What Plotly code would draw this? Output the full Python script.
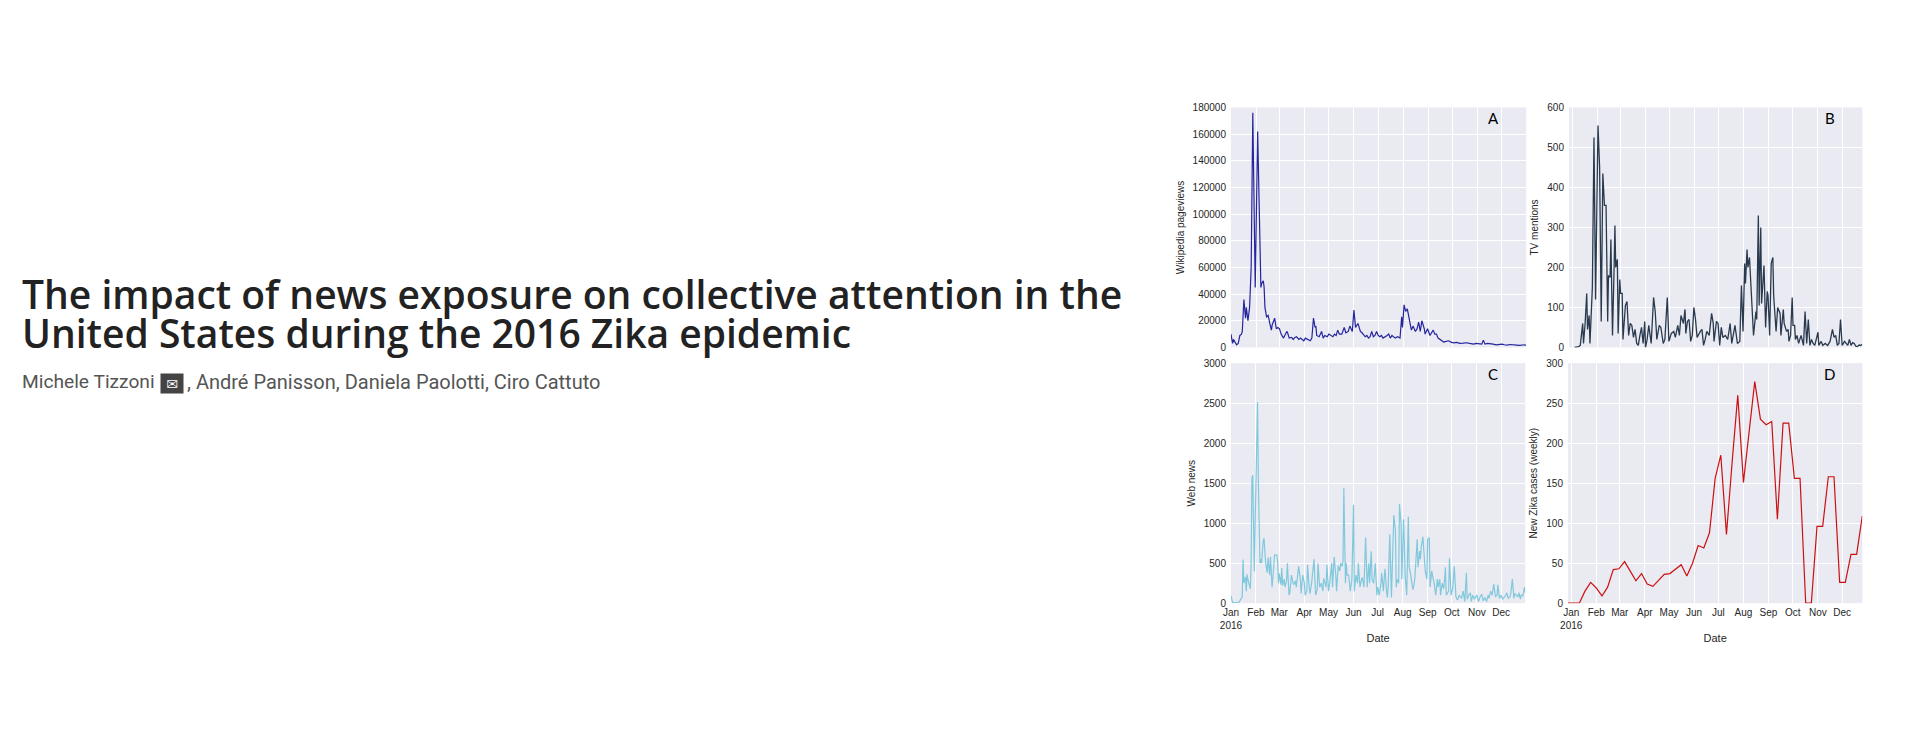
import pandas as pd
import plotly.graph_objects as go

BG = "#EAEAF2"
TXT = "#262626"
TICKFONT = dict(family="Liberation Sans, Arial", size=10, color=TXT)

MONTHS = ["Jan<br>2016", "Feb", "Mar", "Apr", "May", "Jun",
          "Jul", "Aug", "Sep", "Oct", "Nov", "Dec"]
MONTH_STARTS = pd.date_range("2016-01-01", periods=12, freq="MS")

# A: Wikipedia pageviews (days since 2016-01-01)
wiki_days = [0, 2, 3, 5, 7, 9, 11, 13, 14, 16, 18, 19, 21, 23, 24, 25, 27, 30, 33, 37,
             38, 40, 41, 42, 44, 46, 48, 50, 51, 54, 56, 58, 60, 62, 65, 67, 69, 70, 72, 75,
             77, 79, 81, 84, 86, 88, 90, 92, 95, 98, 100, 102, 104, 105, 106, 109, 112, 114, 116, 119,
             121, 123, 126, 128, 130, 132, 134, 137, 140, 142, 145, 147, 150, 152, 154, 157, 160, 162, 164, 166,
             168, 170, 172, 174, 176, 178, 180, 182, 184, 186, 188, 191, 193, 195, 197, 199, 201, 203, 206, 209,
             211, 212, 214, 216, 218, 220, 221, 223, 225, 228, 230, 232, 234, 236, 239, 240, 243, 246, 248, 250,
             252, 254, 256, 258, 260, 263, 266, 269, 272, 275, 279, 283, 287, 291, 295, 300, 303, 306, 309, 310,
             312, 314, 317, 320, 324, 328, 331, 335, 338, 341, 345, 349, 353, 357, 360, 363, 365]
wiki_views = [10000, 3000, 6000, 4000, 2000, 3000, 9000, 10000, 12000, 36000, 22000, 30000, 20000, 30000, 55000, 60000, 176000, 45000, 162000, 45000,
              48000, 50000, 45000, 30000, 23000, 24000, 18000, 13000, 17000, 22000, 14000, 15000, 14000, 10000, 7000, 9000, 12000, 11000, 7000, 7500,
              6000, 7500, 8000, 6000, 7000, 6000, 5000, 7000, 6000, 5000, 7000, 22000, 15000, 16000, 9000, 8000, 12000, 7000, 9000, 8000,
              10000, 9000, 8000, 10000, 9000, 13000, 10000, 10000, 15000, 11000, 12000, 16000, 12000, 28000, 15000, 18000, 12000, 11000, 9000, 8000,
              9000, 7000, 8000, 12000, 8000, 9000, 12000, 9000, 8000, 9000, 7000, 8000, 9000, 10000, 7000, 9000, 8000, 7000, 8000, 7000,
              23000, 15000, 32000, 27000, 29000, 22000, 20000, 13000, 16000, 12000, 14000, 19000, 12000, 20000, 14000, 10000, 14000, 9000, 11000, 13000,
              10000, 10000, 7000, 6000, 5000, 4000, 4500, 5000, 4000, 3500, 3800, 3000, 3200, 3500, 3000, 2500, 3000, 3000, 2500, 2500,
              5500, 2500, 3000, 3000, 2500, 2000, 2200, 2500, 2000, 1800, 2200, 2200, 1800, 1500, 1800, 2000, 1500]

# B: TV mentions (days since 2015-12-28)
tv_days = [7, 12, 14, 17, 18, 20, 22, 23, 25, 26, 29, 31, 33, 35, 36, 38, 40, 42, 44, 46,
           48, 49, 51, 52, 54, 56, 57, 58, 60, 61, 63, 64, 66, 67, 70, 72, 74, 76, 78, 80,
           82, 84, 86, 88, 90, 92, 94, 95, 97, 99, 102, 105, 107, 109, 112, 114, 117, 119, 122, 124,
           127, 130, 132, 135, 137, 139, 142, 144, 145, 147, 149, 151, 153, 155, 157, 159, 161, 163, 165, 167,
           169, 171, 174, 177, 179, 180, 183, 185, 187, 189, 191, 194, 197, 200, 202, 204, 206, 209, 212, 214,
           216, 218, 219, 221, 222, 224, 226, 229, 232, 233, 235, 236, 238, 239, 242, 244, 246, 247, 249, 251,
           253, 254, 257, 259, 262, 263, 266, 267, 270, 272, 273, 275, 277, 278, 280, 281, 283, 285, 288, 291,
           293, 295, 297, 299, 301, 303, 305, 307, 309, 310, 313, 315, 318, 321, 324, 327, 329, 331, 333, 335,
           337, 339, 342, 344, 346, 348, 350, 352, 354, 356, 358, 360, 362, 364]
tv_mentions = [0, 2, 5, 60, 10, 60, 135, 45, 80, 10, 150, 525, 120, 490, 555, 450, 65, 435, 355, 355,
               65, 180, 175, 270, 30, 200, 305, 200, 220, 35, 170, 135, 135, 20, 105, 115, 30, 60, 55, 25,
               45, 10, 5, 30, 50, 10, 65, 0, 20, 55, 10, 125, 90, 20, 55, 50, 10, 20, 125, 15,
               35, 40, 25, 55, 30, 80, 60, 95, 35, 65, 70, 15, 30, 100, 70, 25, 35, 40, 45, 5,
               20, 40, 30, 85, 60, 15, 65, 60, 5, 50, 25, 30, 20, 60, 10, 30, 55, 10, 15, 155,
               40, 210, 160, 245, 200, 225, 130, 30, 90, 70, 330, 105, 300, 110, 205, 50, 140, 130, 30, 210,
               225, 130, 40, 100, 85, 30, 95, 60, 40, 45, 15, 30, 125, 55, 55, 20, 30, 10, 30, 5,
               90, 10, 70, 5, 20, 10, 5, 20, 38, 5, 15, 5, 10, 5, 15, 45, 25, 30, 5, 10,
               70, 5, 15, 10, 5, 20, 5, 12, 10, 3, 2, 6, 5, 8]

# C: Web news (days since 2016-01-01)
news_days = [0, 2, 6, 10, 14, 15, 16, 18, 19, 20, 21, 23, 24, 25, 26, 27, 29, 30, 33, 34,
             36, 37, 38, 40, 41, 43, 44, 45, 46, 48, 49, 51, 53, 54, 57, 58, 59, 60, 62, 63,
             64, 66, 67, 69, 70, 72, 73, 75, 77, 78, 80, 81, 84, 86, 87, 89, 91, 92, 94, 95,
             97, 98, 100, 101, 103, 105, 107, 108, 110, 112, 114, 115, 118, 119, 121, 123, 125, 126, 128, 130,
             131, 133, 135, 136, 138, 139, 140, 142, 143, 144, 146, 148, 150, 152, 153, 155, 157, 158, 160, 162,
             163, 165, 167, 169, 171, 172, 174, 175, 177, 179, 181, 182, 184, 186, 187, 189, 191, 193, 194, 195,
             197, 199, 201, 202, 204, 205, 206, 208, 209, 211, 212, 214, 215, 216, 218, 220, 221, 223, 225, 226,
             228, 231, 232, 234, 235, 236, 238, 240, 241, 243, 244, 246, 247, 249, 250, 252, 254, 256, 257, 259,
             260, 262, 264, 266, 267, 270, 271, 273, 275, 277, 279, 281, 283, 286, 288, 290, 292, 293, 295, 297,
             298, 300, 302, 305, 307, 309, 311, 313, 315, 317, 319, 320, 322, 324, 326, 328, 330, 331, 333, 335,
             337, 339, 341, 342, 344, 346, 347, 349, 351, 352, 354, 356, 357, 359, 360, 362, 364, 365]
news_counts = [95, 10, 8, 12, 80, 545, 250, 330, 150, 360, 300, 200, 180, 500, 1550, 1600, 400, 1000, 2510, 1500,
               500, 550, 500, 780, 810, 500, 450, 380, 570, 350, 580, 200, 450, 600, 600, 500, 250, 370, 230, 440,
               220, 300, 200, 280, 500, 100, 130, 350, 250, 230, 280, 200, 460, 300, 120, 350, 250, 100, 150, 480,
               200, 120, 250, 350, 550, 100, 170, 500, 200, 250, 150, 310, 200, 480, 150, 300, 500, 200, 580, 350,
               150, 470, 400, 500, 460, 530, 1440, 250, 500, 350, 350, 150, 300, 1230, 150, 350, 250, 500, 200, 300,
               320, 200, 820, 200, 500, 250, 650, 300, 250, 500, 100, 200, 100, 250, 380, 150, 430, 150, 70, 200,
               860, 70, 850, 1100, 900, 200, 300, 250, 1240, 1000, 300, 1050, 750, 350, 100, 1080, 450, 350, 200, 170,
               300, 800, 450, 650, 550, 700, 830, 500, 400, 300, 800, 820, 200, 400, 350, 250, 100, 300, 200, 300,
               100, 250, 180, 450, 100, 150, 560, 100, 180, 460, 80, 40, 100, 60, 150, 20, 380, 50, 100, 130,
               20, 100, 50, 100, 20, 80, 110, 30, 70, 20, 100, 60, 150, 100, 240, 80, 100, 230, 60, 100,
               50, 70, 100, 130, 60, 80, 120, 300, 60, 120, 100, 80, 130, 50, 100, 90, 200, 130]

# D: new Zika cases, weekly from 2015-12-28
zika_weekly = [0, 0, 0, 15, 26, 19, 9, 20, 42, 43, 52, 40, 28, 37, 24, 21, 28, 36, 37, 42,
               48, 34, 50, 72, 69, 88, 156, 185, 86, 176, 260, 151, 215, 277, 230, 223, 227, 105, 225, 225,
               156, 156, 0, 0, 96, 96, 158, 158, 26, 26, 61, 61, 109]

jan1 = pd.Timestamp("2016-01-01")
dec28 = pd.Timestamp("2015-12-28")
wiki_x = [jan1 + pd.Timedelta(days=d) for d in wiki_days]
tv_x = [dec28 + pd.Timedelta(days=d) for d in tv_days]
news_x = [jan1 + pd.Timedelta(days=d) for d in news_days]
zika_x = pd.date_range(dec28, periods=len(zika_weekly), freq="7D")

# page body keeps an 8px margin, so the figure is that much smaller
PAD = 8
W, H = 1920 - 2 * PAD, 747 - 2 * PAD
# annotations land a little to the right of their anchor
ANN_DX = 13.5


def px(x):
    return (x - PAD) / W


def py(y):
    return 1 - (y - PAD) / H


# panel boxes in screen pixels: left, right, top, bottom
PANELS = {
    "": (1227, 1524, 103, 347),
    "2": (1567, 1862, 103, 347),
    "3": (1227, 1523, 363, 607),
    "4": (1566, 1862, 363, 607),
}

fig = go.Figure()
fig.add_scatter(x=wiki_x, y=wiki_views, mode="lines", xaxis="x", yaxis="y",
                line=dict(color="#25259E", width=1.2), showlegend=False)
fig.add_scatter(x=tv_x, y=tv_mentions, mode="lines", xaxis="x2", yaxis="y2",
                line=dict(color="#2A3A4E", width=1.3), showlegend=False)
fig.add_scatter(x=news_x, y=news_counts, mode="lines", xaxis="x3", yaxis="y3",
                line=dict(color="#80C8DC", width=1.2), showlegend=False)
fig.add_scatter(x=zika_x, y=zika_weekly, mode="lines", xaxis="x4", yaxis="y4",
                line=dict(color="#CC1010", width=1.2), showlegend=False)

y_setup = {
    "": ("Wikipedia pageviews", 180000, 20000),
    "2": ("TV mentions", 600, 100),
    "3": ("Web news", 3000, 500),
    "4": ("New Zika cases (weekly)", 300, 50),
}
x_ranges = {
    "": ["2016-01-01", "2016-12-31"],
    "2": ["2015-12-28", "2016-12-26"],
    "3": ["2016-01-01", "2016-12-31"],
    "4": ["2015-12-28", "2016-12-26"],
}

layout = {}
for key, (l, r, t, b) in PANELS.items():
    title, ymax, dtick = y_setup[key]
    bottom = key in ("3", "4")
    layout["xaxis" + key] = dict(
        domain=[px(l), px(r)], anchor="y" + key, range=x_ranges[key],
        tickvals=MONTH_STARTS, ticktext=MONTHS, showticklabels=bottom,
        tickfont=TICKFONT, showgrid=True, gridcolor="white", gridwidth=1,
        zeroline=False, showline=False, ticks="", ticklabelstandoff=2,
        title=dict(text="Date" if bottom else "",
                   font=dict(family="Liberation Sans, Arial", size=11, color=TXT), standoff=4),
    )
    layout["yaxis" + key] = dict(
        domain=[py(b), py(t)], anchor="x" + key, range=[0, ymax],
        dtick=dtick, tickformat="d", tickfont=TICKFONT, showgrid=True,
        gridcolor="white", gridwidth=1, zeroline=False, showline=False,
        ticks="", ticklabelstandoff=4,
        title=dict(text=title, font=dict(family="Liberation Sans, Arial", size=10, color=TXT), standoff=6),
    )

fig.update_layout(
    width=W, height=H, margin=dict(l=0, r=0, t=0, b=0),
    paper_bgcolor="white", plot_bgcolor=BG, **layout,
)

for key, letter in zip(PANELS, "ABCD"):
    fig.add_annotation(text=letter, xref="x" + key + " domain", yref="y" + key + " domain",
                       x=0.89, y=0.955, showarrow=False, xanchor="center", yanchor="middle",
                       font=dict(family="Lato, Open Sans", size=15, color="black"))

TITLE_FONT = dict(family="Open Sans", size=39, color="#222222", weight=600)
fig.add_annotation(text="The impact of news exposure on collective attention in the",
                   xref="paper", yref="paper", x=px(22.5 - ANN_DX), y=py(292), xanchor="left",
                   align="left", yanchor="middle", showarrow=False, font=TITLE_FONT)
fig.add_annotation(text="United States during the 2016 Zika epidemic",
                   xref="paper", yref="paper", x=px(22.5 - ANN_DX), y=py(332), xanchor="left",
                   align="left", yanchor="middle", showarrow=False, font=TITLE_FONT)

AUTH_FONT = dict(family="Roboto, Liberation Sans", size=20, color="#555555")
fig.add_annotation(text="Michele Tizzoni", xref="paper", yref="paper", x=px(22.5 - ANN_DX), y=py(382),
                   xanchor="left", align="left", yanchor="middle", showarrow=False,
                   font=dict(AUTH_FONT, size=19.2))
fig.add_annotation(text="✉", xref="paper", yref="paper", x=px(162), y=py(383.5),
                   xanchor="center", yanchor="middle", showarrow=False, bgcolor="#444444",
                   width=20, height=17, borderpad=1,
                   font=dict(family="DejaVu Sans", size=14, color="white"))
fig.add_annotation(text=", André Panisson, Daniela Paolotti, Ciro Cattuto", xref="paper", yref="paper",
                   x=px(175), y=py(382), xanchor="left", align="left", yanchor="middle",
                   showarrow=False, font=AUTH_FONT)

fig.write_html("out.html")
